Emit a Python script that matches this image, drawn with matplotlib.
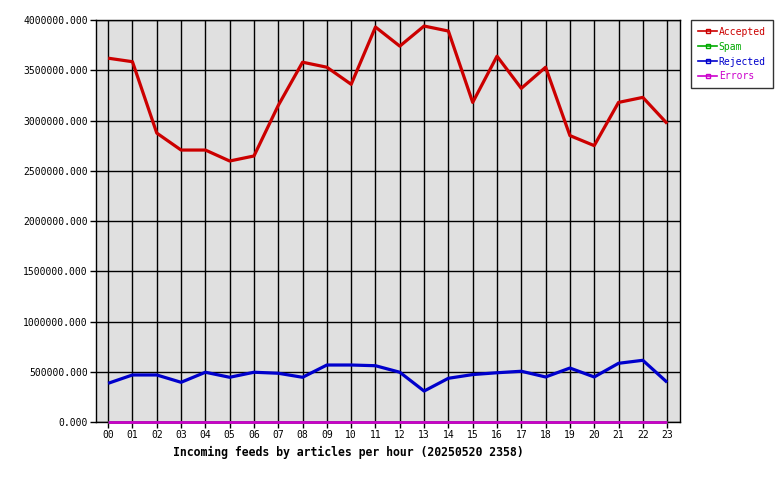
import matplotlib
matplotlib.use("Agg")
import matplotlib.pyplot as plt
from matplotlib.lines import Line2D

hours = ["00","01","02","03","04","05","06","07","08","09","10","11",
         "12","13","14","15","16","17","18","19","20","21","22","23"]
accepted = [3620000, 3585000, 2875000, 2706000, 2706000, 2597000, 2647000, 3150000,
            3580000, 3530000, 3360000, 3930000, 3740000, 3940000, 3890000, 3180000,
            3640000, 3320000, 3530000, 2850000, 2750000, 3180000, 3230000, 2970000]
rejected = [385000, 468000, 468000, 395000, 495000, 445000, 495000, 485000,
            445000, 567000, 567000, 560000, 495000, 308000, 435000, 472000,
            490000, 505000, 448000, 537000, 448000, 584000, 614000, 395000]
spam = [0]*24
errors = [0]*24
yticks = [0, 500000, 1000000, 1500000, 2000000, 2500000, 3000000, 3500000, 4000000]
title = "Incoming feeds by articles per hour (20250520 2358)"

C_ACC = "#cc0000"
C_SPAM = "#00aa00"
C_REJ = "#0000cc"
C_ERR = "#cc00cc"

mono = ["DejaVu Sans Mono"]

fig = plt.figure(figsize=(7.8, 4.8), dpi=100)
ax = fig.add_axes([96/780, 1-422/480, (680-96)/780, (422-20)/480])
ax.set_facecolor("#e0e0e0")
x = list(range(len(hours)))
ax.plot(x, spam, color=C_SPAM, lw=2.0, solid_capstyle="butt", zorder=3, clip_on=False)
ax.plot(x, errors, color=C_ERR, lw=2.0, solid_capstyle="butt", zorder=4, clip_on=False)
ax.plot(x, rejected, color=C_REJ, lw=2.3, solid_capstyle="butt", zorder=3)
ax.plot(x, accepted, color=C_ACC, lw=2.3, solid_capstyle="butt", zorder=3)

ax.set_xlim(-0.5, 23.53)
ax.set_ylim(0, 4000000)
ax.set_xticks(x)
ax.set_xticklabels(hours, fontfamily=mono, fontsize=7)
ax.set_yticks(yticks)
ax.set_yticklabels([f"{v:.3f}" for v in yticks], fontfamily=mono, fontsize=7)
ax.grid(True, color="black", lw=1.0)
ax.set_axisbelow(True)
ax.tick_params(axis="both", length=4, width=1.0, color="black", pad=2)
for s in ax.spines.values():
    s.set_color("black")
    s.set_linewidth(1.0)

fig.text(348/780, 1-452/480, title, ha="center", va="center",
         fontfamily=mono, fontsize=8.3, fontweight="bold")

handles = [Line2D([0, 0.5, 1], [0, 0, 0], color=c, lw=1.2, marker="s", markersize=2.5,
                  markerfacecolor="none", markeredgecolor=c, markevery=[1])
           for c in (C_ACC, C_SPAM, C_REJ, C_ERR)]
leg = fig.legend(handles, ["Accepted", "Spam", "Rejected", "Errors"],
                 loc="upper left", bbox_to_anchor=(691/780, 1-20/480),
                 prop={"family": mono, "size": 7}, frameon=True, fancybox=False,
                 edgecolor="black", handlelength=2.0, handletextpad=0.15,
                 borderpad=0.7, labelspacing=0.5, borderaxespad=0)
leg.get_frame().set_linewidth(1.0)
for t, c in zip(leg.get_texts(), (C_ACC, C_SPAM, C_REJ, C_ERR)):
    t.set_color(c)

fig.savefig("out.png", dpi=100)
